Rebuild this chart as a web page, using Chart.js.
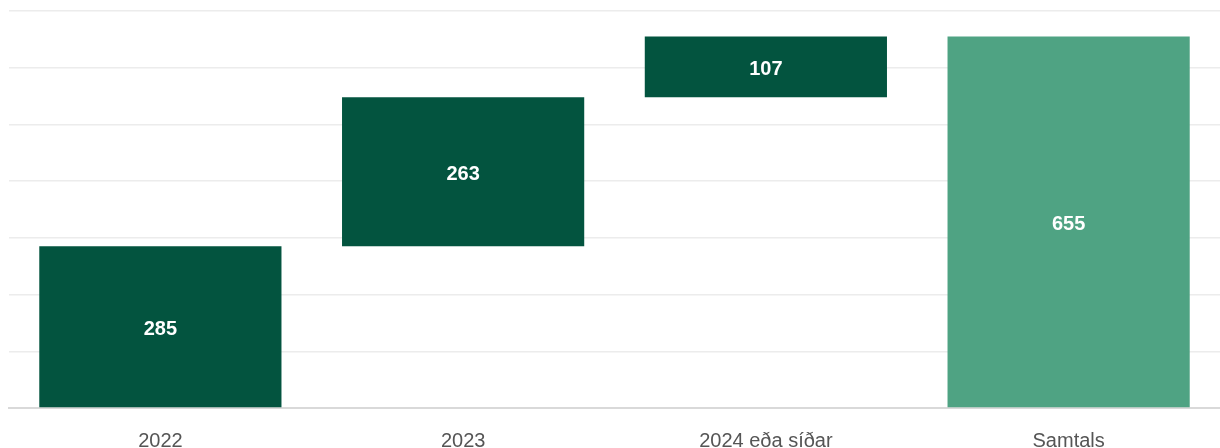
<!DOCTYPE html>
<html>
<head>
<meta charset="utf-8">
<script src="https://cdn.jsdelivr.net/npm/chart.js@4"></script>
<style>
html,body{margin:0;padding:0;background:#fff;}
#wrap{width:1220px;height:448px;position:relative;}
</style>
</head>
<body>
<div id="wrap"><canvas id="c"></canvas></div>
<script>
const categories = ['2022', '2023', '2024 eða síðar', 'Samtals'];
const increments = [285, 263, 107];
const total = 655;
const yTicks = [0, 100, 200, 300, 400, 500, 600, 700];

const starts = [];
let run = 0;
increments.forEach(v => { starts.push(run); run += v; });
const floating = increments.map((v, i) => [starts[i], starts[i] + v]);
floating.push([0, total]);
const labels = increments.concat([total]);
const colors = ['#03543F', '#03543F', '#03543F', '#4FA383'];

const labelPlugin = {
  id: 'vals',
  afterDatasetsDraw(chart) {
    const ctx = chart.ctx;
    const meta = chart.getDatasetMeta(0);
    ctx.save();
    ctx.fillStyle = '#ffffff';
    ctx.font = 'bold 20px "Liberation Sans", Arial, sans-serif';
    ctx.textAlign = 'center';
    ctx.textBaseline = 'middle';
    meta.data.forEach((el, i) => {
      const p = el.getProps(['x', 'y', 'base'], true);
      ctx.fillText(String(labels[i]), p.x, (p.y + p.base) / 2 + 3);
    });
    ctx.restore();
  }
};

new Chart(document.getElementById('c'), {
  type: 'bar',
  data: {
    labels: categories,
    datasets: [{
      data: floating,
      backgroundColor: colors,
      borderWidth: 0,
      barPercentage: 0.8,
      categoryPercentage: 1.0
    }]
  },
  options: {
    responsive: true,
    maintainAspectRatio: false,
    animation: false,
    layout: { padding: { left: 9, top: 11, right: 0, bottom: 0 } },
    plugins: { legend: { display: false }, tooltip: { enabled: false } },
    scales: {
      x: {
        grid: { display: false, drawTicks: false },
        border: { display: true, color: '#d9d9d9', width: 2 },
        ticks: { color: '#555555', font: { size: 20, family: '"Liberation Sans", Arial, sans-serif' }, padding: 21 },
        afterFit(axis) { axis.height = 40; }
      },
      y: {
        min: yTicks[0],
        max: yTicks[yTicks.length - 1],
        afterBuildTicks(axis) { axis.ticks = yTicks.map(v => ({ value: v })); },
        ticks: { display: false },
        grid: { color: '#ececec', lineWidth: 1.5, drawTicks: false },
        border: { display: false }
      }
    }
  },
  plugins: [labelPlugin]
});
</script>
</body>
</html>
